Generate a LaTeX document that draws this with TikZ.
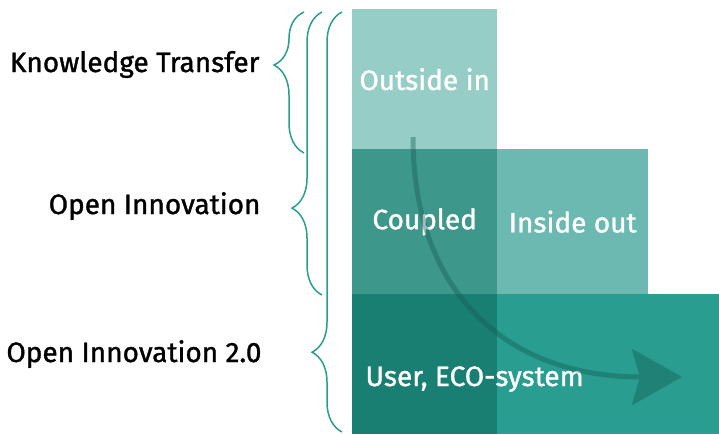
\documentclass[tikz,border=0pt]{standalone}
\usepackage{fontspec}
\setmainfont{Fira Sans}[FakeBold=1.2]
\usetikzlibrary{arrows.meta,calc,decorations.pathreplacing}
\definecolor{outsideC}{HTML}{96CEC7}
\definecolor{coupledC}{HTML}{3E978B}
\definecolor{insideC}{HTML}{6BB9B1}
\definecolor{userC}{HTML}{197F73}
\definecolor{ecoC}{HTML}{289D90}
\definecolor{braceC}{HTML}{2A9D8F}
\definecolor{flowC}{HTML}{145A52}

\begin{document}
\begin{tikzpicture}[x=1pt,y=-1pt,
		lvl/.style={font=\fontsize{28}{32}\selectfont},
		box/.style={rectangle,inner sep=0pt,anchor=north west,text=white,lvl},
		lab/.style={anchor=base east,text=black,lvl},
		brc/.style={decorate,decoration={brace,amplitude=30pt,aspect=#1},draw=braceC,line width=1.5pt}]
			\useasboundingbox (0,0) rectangle (719,434);
			% blocks
			\node[box,fill=outsideC,minimum width=145pt,minimum height=140pt] (outside) at (352,9) {Outside in};
			\node[box,fill=coupledC,minimum width=145pt,minimum height=145pt] (coupled) at (352,149) {Coupled};
			\node[box,fill=insideC,minimum width=151pt,minimum height=145pt] (inside) at (497,149) {Inside out};
			\node[box,fill=userC,minimum width=145pt,minimum height=140pt] (user) at (352,294) {};
			\node[box,fill=ecoC,minimum width=222pt,minimum height=140pt] (eco) at (497,294) {};
			\node[text=white,lvl,anchor=base west] (usertext) at (362,386) {User, ECO-system};
			% levels
			\node[lab] (kt) at (263,72) {Knowledge Transfer};
			\node[lab] (oi) at (264,214) {Open Innovation};
			\node[lab] (oi2) at (265,362) {Open Innovation 2.0};
			% braces
			\coordinate (kt-top) at (304,12);
			\coordinate (kt-bot) at (304,153);
			\coordinate (oi-top) at (322,12);
			\coordinate (oi-bot) at (322,295);
			\coordinate (oi2-top) at (342,12);
			\coordinate (oi2-bot) at (342,432);
			\draw[brc=0.624] (kt-bot) -- (kt-top);
			\draw[brc=0.307] (oi-bot) -- (oi-top);
			\draw[brc=0.19] (oi2-bot) -- (oi2-top);
			% flow
			\coordinate (start) at (413,137);
			\coordinate (end) at (682,377);
			\begin{scope}[transparency group,opacity=0.4]
				\draw[flowC,line width=5pt,-{Stealth[length=50pt,width=56pt,inset=8pt]}] (start) .. controls (413,293) and (507,377) .. (end);
			\end{scope}
		\end{tikzpicture}
\end{document}
